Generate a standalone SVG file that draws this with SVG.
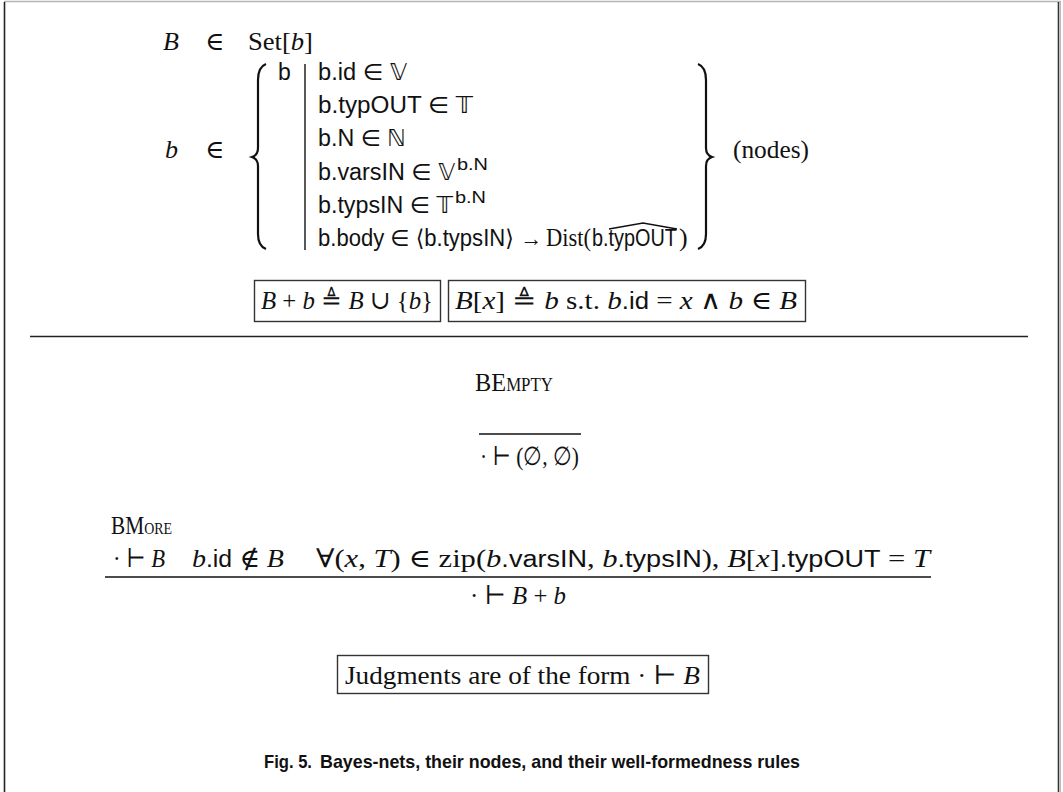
<svg xmlns="http://www.w3.org/2000/svg" width="1063" height="792" viewBox="0 0 1063 792">
<style>
.m{font-family:"Liberation Serif","DejaVu Serif",serif;font-size:26px;fill:#111}
.s{font-family:"Liberation Sans","DejaVu Sans",sans-serif;font-size:23px;fill:#111}
.sup{font-family:"Liberation Sans","DejaVu Sans",sans-serif;font-size:16px;fill:#111}
.i{font-style:italic}
.ss{font-family:"Liberation Sans","DejaVu Sans",sans-serif;font-size:23px}
.sc{font-size:18px}
.ln{stroke:#111;stroke-width:1.4;fill:none}
.br{stroke:#111;stroke-width:2.2;fill:none}
.box{stroke:#333;stroke-width:1.4;fill:none}
.cap{font-family:"Liberation Sans","DejaVu Sans",sans-serif;font-size:19px;font-weight:bold;fill:#111}
</style>
<rect width="1063" height="792" fill="#fff"/>
<g id="frame">
<line x1="4" y1="1.5" x2="1061" y2="1.5" stroke="#b5b5b5" stroke-width="1.5"/>
<line x1="4.5" y1="2" x2="4.5" y2="792" stroke="#222" stroke-width="1.6"/>
<line x1="1058.5" y1="2" x2="1058.5" y2="792" stroke="#333" stroke-width="1.6"/>
<line x1="1060.5" y1="2" x2="1060.5" y2="792" stroke="#bbb" stroke-width="1"/>
</g>
<g id="grammar">
<text class="m" x="163" y="50"><tspan class="i">B</tspan></text>
<text class="m" x="205" y="50">∈</text>
<text class="m" x="248" y="50" textLength="65" lengthAdjust="spacingAndGlyphs">Set[<tspan class="i">b</tspan>]</text>
<text class="m" x="165" y="158"><tspan class="i">b</tspan></text>
<text class="m" x="205" y="158">∈</text>
<path class="br" d="M266 64 Q258 67 258 80 L258 148 Q258 155 252 157 Q258 159 258 166 L258 234 Q258 246 266 249"/>
<path class="br" d="M698 64 Q706 67 706 80 L706 148 Q706 155 712 157 Q706 159 706 166 L706 234 Q706 246 698 249"/>
<text class="s" x="278" y="80">b</text>
<line class="ln" x1="305" y1="64" x2="305" y2="250"/>
<text class="s" x="318" y="80" textLength="89" lengthAdjust="spacingAndGlyphs">b.id ∈ 𝕍</text>
<text class="s" x="318" y="113" textLength="155" lengthAdjust="spacingAndGlyphs">b.typOUT ∈ 𝕋</text>
<text class="s" x="318" y="146" textLength="88" lengthAdjust="spacingAndGlyphs">b.N ∈ ℕ</text>
<text class="s" x="318" y="180" textLength="137" lengthAdjust="spacingAndGlyphs">b.varsIN ∈ 𝕍</text>
<text class="sup" x="457" y="170" textLength="31" lengthAdjust="spacingAndGlyphs">b.N</text>
<text class="s" x="318" y="213" textLength="135" lengthAdjust="spacingAndGlyphs">b.typsIN ∈ 𝕋</text>
<text class="sup" x="455" y="203" textLength="31" lengthAdjust="spacingAndGlyphs">b.N</text>
<text class="s" x="318" y="246" textLength="224" lengthAdjust="spacingAndGlyphs">b.body ∈ ⟨b.typsIN⟩ →</text>
<text class="m" x="546" y="246" textLength="45" lengthAdjust="spacingAndGlyphs">Dist(</text>
<text class="s" x="592" y="246" textLength="85" lengthAdjust="spacingAndGlyphs">b.typOUT</text>
<text class="m" x="679" y="246">)</text>
<path d="M609 229 L643 223 L677 229" stroke="#111" stroke-width="1.3" fill="none"/>
<text class="m" x="733" y="158" textLength="76" lengthAdjust="spacingAndGlyphs">(nodes)</text>
</g>
<g id="defs-boxes">
<rect class="box" x="254.5" y="280.5" width="186" height="41"/>
<text class="m" x="261" y="309" textLength="172" lengthAdjust="spacingAndGlyphs"><tspan class="i">B</tspan> + <tspan class="i">b</tspan> ≜ <tspan class="i">B</tspan> ∪ {<tspan class="i">b</tspan>}</text>
<rect class="box" x="448.5" y="280.5" width="357" height="41"/>
<text class="m" x="455" y="309" textLength="342" lengthAdjust="spacingAndGlyphs"><tspan class="i">B</tspan>[<tspan class="i">x</tspan>] ≜ <tspan class="i">b</tspan> s.t. <tspan class="i">b</tspan><tspan class="ss">.id</tspan> = <tspan class="i">x</tspan> ∧ <tspan class="i">b</tspan> ∈ <tspan class="i">B</tspan></text>
</g>
<line id="separator" x1="30" y1="336.5" x2="1028" y2="336.5" stroke="#222" stroke-width="1.4"/>
<g id="rule-bempty">
<text class="m" x="475" y="391" textLength="78" lengthAdjust="spacingAndGlyphs">BE<tspan class="sc">MPTY</tspan></text>
<line class="ln" x1="479" y1="434" x2="581" y2="434"/>
<text class="m" x="480" y="465" textLength="99" lengthAdjust="spacingAndGlyphs">· ⊢ (∅, ∅)</text>
</g>
<g id="rule-bmore">
<text class="m" x="111" y="534" font-size="24" textLength="61" lengthAdjust="spacingAndGlyphs">BM<tspan font-size="17">ORE</tspan></text>
<text class="m" x="113" y="567" textLength="52" lengthAdjust="spacingAndGlyphs">· ⊢ <tspan class="i">B</tspan></text>
<text class="m" x="192" y="567" textLength="92" lengthAdjust="spacingAndGlyphs"><tspan class="i">b</tspan><tspan class="ss">.id</tspan> ∉ <tspan class="i">B</tspan></text>
<text class="m" x="316" y="567" textLength="614" lengthAdjust="spacingAndGlyphs">∀(<tspan class="i">x</tspan>, <tspan class="i">T</tspan>) ∈ zip(<tspan class="i">b</tspan><tspan class="ss">.varsIN</tspan>, <tspan class="i">b</tspan><tspan class="ss">.typsIN</tspan>), <tspan class="i">B</tspan>[<tspan class="i">x</tspan>]<tspan class="ss">.typOUT</tspan> = <tspan class="i">T</tspan></text>
<line class="ln" x1="105" y1="577" x2="931" y2="577"/>
<text class="m" x="470" y="604" textLength="96" lengthAdjust="spacingAndGlyphs">· ⊢ <tspan class="i">B</tspan> + <tspan class="i">b</tspan></text>
</g>
<g id="judgment">
<rect class="box" x="337.5" y="655.5" width="371" height="38"/>
<text class="m" x="345" y="684" textLength="355" lengthAdjust="spacingAndGlyphs">Judgments are of the form · ⊢ <tspan class="i">B</tspan></text>
</g>
<g id="caption">
<text class="cap" x="264" y="768" textLength="48" lengthAdjust="spacingAndGlyphs">Fig. 5.</text>
<text class="cap" x="320" y="768" textLength="480" lengthAdjust="spacingAndGlyphs">Bayes-nets, their nodes, and their well-formedness rules</text>
</g>
</svg>
